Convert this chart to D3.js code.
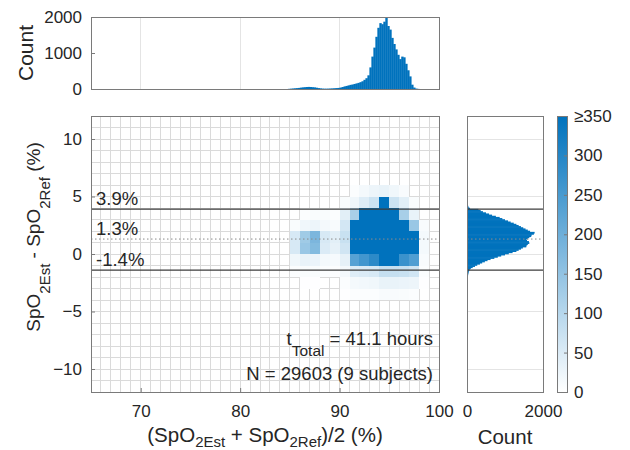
<!DOCTYPE html>
<html><head><meta charset="utf-8">
<script src="https://cdn.jsdelivr.net/npm/d3@7/dist/d3.min.js"></script>
<style>
body{margin:0;background:#fff;}
text{font-family:"Liberation Sans",Arial,sans-serif;fill:#262626;}
</style>
</head><body>
<svg id="c" width="630" height="450"></svg>
<script>
// ---------- data ----------
const xTicks = [70, 80, 90, 100];
const yTicks = [-10, -5, 0, 5, 10];
const topTicks = [0, 1000, 2000];
const rightTicks = [0, 2000];
const cbarTicks = [0, 50, 100, 150, 200, 250, 300, 350];
const cbarTickLabels = ["0", "50", "100", "150", "200", "250", "300", "\u2265350"];

const limitValues = [3.9, 1.3, -1.4];
const limitLabels = ["3.9%", "1.3%", "-1.4%"];

// 2D histogram (1% x 1% bins): lower edges and counts (rows top -> bottom)
const heatXStart = [84, 85, 86, 87, 88, 89, 90, 91, 92, 93, 94, 95, 96, 97, 98];
const heatYStart = [5, 4, 3, 2, 1, 0, -1, -2, -3, -4];
const heatCounts = [
  [0, 0, 0, 0, 0, 0, 0, 5, 15, 25, 30, 20, 10, 0, 0],
  [0, 0, 0, 0, 0, 0, 8, 20, 45, 70, 420, 70, 40, 8, 0],
  [0, 0, 5, 8, 8, 5, 40, 120, 380, 600, 900, 450, 120, 30, 0],
  [0, 8, 20, 25, 15, 10, 60, 380, 900, 1500, 1800, 1200, 500, 140, 10],
  [0, 55, 130, 180, 55, 40, 75, 420, 1100, 1900, 2300, 1700, 900, 420, 15],
  [0, 55, 140, 170, 50, 35, 65, 400, 1000, 1800, 2200, 1800, 900, 400, 15],
  [0, 20, 30, 28, 15, 12, 35, 230, 260, 290, 600, 500, 270, 240, 10],
  [0, 5, 8, 8, 5, 4, 15, 45, 50, 55, 80, 80, 75, 65, 5],
  [0, 0, 2, 2, 0, 0, 5, 15, 18, 20, 30, 30, 28, 25, 2],
  [0, 0, 0, 0, 0, 0, 2, 5, 6, 6, 10, 10, 8, 6, 0]
];

// top marginal histogram of the mean (bins of 0.2 starting at 84.8)
const topBinFirst = 84.8, topBinWidth = 0.2;
const topCounts = [
  5, 10, 15, 20, 25, 30, 38, 45, 50, 55, 58, 55, 50, 45, 35, 25, 18, 12, 10, 10,
  12, 15, 18, 22, 26, 30, 40, 55, 72, 85, 100, 115, 125, 140, 155, 170, 190, 215, 255, 300,
  380, 600, 900, 1150, 1450, 1700, 1830, 1800, 1870, 2000, 1750, 1650, 1420, 1250, 1100, 950,
  830, 900, 880, 700, 520, 350, 120, 40, 12, 4
];

// right marginal histogram of the difference (bins of 0.1 starting at -3.3)
const rightBinFirst = -3.3, rightBinWidth = 0.1;
const rightCounts = [
  4, 5, 6, 7, 8, 9, 10, 12, 14, 16, 18, 20, 22, 25, 28, 32, 38, 45, 55, 70,
  100, 150, 210, 270, 340, 400, 470, 540, 620, 720, 810, 900, 1000, 1100, 1200, 1300, 1360, 1420, 1470, 1560,
  1570, 1600, 1640, 1630, 1580, 1560, 1600, 1640, 1690, 1700, 1760, 1780, 1660, 1600, 1540, 1480, 1420, 1360, 1300, 1230,
  1150, 1080, 1000, 930, 860, 760, 660, 580, 500, 420, 360, 300, 80, 45, 30, 25, 20, 15
];

// ---------- layout ----------
const svg = d3.select("#c");
const M = {l: 91, r: 439, t: 116, b: 392};
const TH = {t: 17, b: 89};
const RH = {l: 467, r: 543};
const CB = {l: 557, r: 567};
const blue = "#0072bd";
const boxColor = "#7a7a7a";
const gridColor = "#dadada";

const x = d3.scaleLinear().domain([65, 100]).range([M.l, M.r]);
const y = d3.scaleLinear().domain([-12, 12]).range([M.b, M.t]);
const yTop = d3.scaleLinear().domain([0, 2000]).range([TH.b, TH.t]);
const xRight = d3.scaleLinear().domain([0, 2000]).range([RH.l, RH.r]);
const cbY = d3.scaleLinear().domain([0, 350]).range([M.b, M.t]);
const color = d3.scaleLinear().domain([0, 350]).range(["#ffffff", blue]).clamp(true);

// ---------- main heatmap ----------
const gMain = svg.append("g");
gMain.selectAll("line.gv").data(d3.range(66, 100)).join("line")
  .attr("x1", d => x(d)).attr("x2", d => x(d)).attr("y1", M.t).attr("y2", M.b)
  .attr("stroke", gridColor).attr("shape-rendering", "crispEdges");
gMain.selectAll("line.gh").data(d3.range(-11, 12)).join("line")
  .attr("x1", M.l).attr("x2", M.r).attr("y1", d => y(d)).attr("y2", d => y(d))
  .attr("stroke", gridColor).attr("shape-rendering", "crispEdges");

const cells = [];
heatCounts.forEach((row, i) => row.forEach((c, j) => {
  if (c > 0) cells.push({x0: heatXStart[j], y0: heatYStart[i], c});
}));
gMain.selectAll("rect.cell").data(cells).join("rect")
  .attr("x", d => x(d.x0)).attr("width", d => x(d.x0 + 1) - x(d.x0))
  .attr("y", d => y(d.y0 + 1)).attr("height", d => y(d.y0) - y(d.y0 + 1))
  .attr("fill", d => color(d.c)).attr("shape-rendering", "crispEdges");

function drawLimits(g, x1, x2) {
  g.selectAll(null).data(limitValues).join("line")
    .attr("x1", x1).attr("x2", x2)
    .attr("y1", d => y(d)).attr("y2", d => y(d))
    .attr("stroke", (d, i) => i === 1 ? "#8a8a8a" : "#3c3c3c")
    .attr("stroke-width", (d, i) => i === 1 ? 1 : 1.2)
    .attr("stroke-dasharray", (d, i) => i === 1 ? "1.5,2.5" : null);
}
drawLimits(gMain, M.l, M.r);
gMain.selectAll("text.lim").data(limitValues).join("text")
  .attr("x", 96).attr("y", d => y(d) - 4)
  .attr("font-size", 18.5).text((d, i) => limitLabels[i]);

const ann1 = gMain.append("text").attr("x", 433).attr("y", 345).attr("text-anchor", "end").attr("font-size", 18.5);
ann1.append("tspan").text("t");
ann1.append("tspan").attr("font-size", 15.5).attr("dy", 11).text("Total");
ann1.append("tspan").attr("dy", -11).text(" = 41.1 hours");
gMain.append("text").attr("x", 433).attr("y", 380).attr("text-anchor", "end").attr("font-size", 18.5)
  .text("N = 29603 (9 subjects)");

const axL = d3.axisLeft(y).tickValues(yTicks).tickSize(-4).tickPadding(9).tickFormat(d3.format("d"));
const gy = svg.append("g").attr("transform", `translate(${M.l},0)`).call(axL);
const axB = d3.axisBottom(x).tickValues(xTicks).tickSize(-4).tickPadding(13);
const gx = svg.append("g").attr("transform", `translate(0,${M.b})`).call(axB);
[gy, gx].forEach(g => {
  g.select(".domain").remove();
  g.selectAll("line").attr("stroke", boxColor);
  g.selectAll("text").attr("font-size", 17).attr("font-family", '"Liberation Sans",Arial,sans-serif').attr("fill", "#262626");
});
svg.append("rect").attr("x", M.l).attr("y", M.t).attr("width", M.r - M.l).attr("height", M.b - M.t)
  .attr("fill", "none").attr("stroke", boxColor).attr("shape-rendering", "crispEdges");

const xl = svg.append("text").attr("x", (M.l + M.r) / 2).attr("y", 442).attr("text-anchor", "middle").attr("font-size", 20.5);
xl.append("tspan").text("(SpO");
xl.append("tspan").attr("font-size", 15).attr("dy", 5).text("2Est");
xl.append("tspan").attr("dy", -5).text(" + SpO");
xl.append("tspan").attr("font-size", 15).attr("dy", 5).text("2Ref");
xl.append("tspan").attr("dy", -5).text(")/2 (%)");

const yl = svg.append("text").attr("transform", "translate(40,237) rotate(-90)").attr("text-anchor", "middle").attr("font-size", 19);
yl.append("tspan").text("SpO");
yl.append("tspan").attr("font-size", 15).attr("dy", 10).text("2Est");
yl.append("tspan").attr("dy", -10).text(" - SpO");
yl.append("tspan").attr("font-size", 15).attr("dy", 10).text("2Ref");
yl.append("tspan").attr("dy", -10).text(" (%)");

// ---------- top histogram ----------
const gTop = svg.append("g");
gTop.selectAll("line.g").data(xTicks.filter(d => d < 100)).join("line")
  .attr("x1", d => x(d)).attr("x2", d => x(d)).attr("y1", TH.t).attr("y2", TH.b)
  .attr("stroke", "#e4e4e4").attr("shape-rendering", "crispEdges");
gTop.selectAll("rect.bar").data(topCounts).join("rect")
  .attr("x", (d, i) => x(topBinFirst + i * topBinWidth))
  .attr("width", (d, i) => x(topBinFirst + (i + 1) * topBinWidth) - x(topBinFirst + i * topBinWidth) + 0.4)
  .attr("y", d => yTop(d)).attr("height", d => yTop(0) - yTop(d))
  .attr("fill", blue);
const gty = svg.append("g").attr("transform", `translate(${M.l},0)`)
  .call(d3.axisLeft(yTop).tickValues(topTicks).tickSize(-4).tickPadding(9).tickFormat(d3.format("d")));
gty.select(".domain").remove();
gty.selectAll("line").attr("stroke", boxColor);
gty.selectAll("text").attr("font-size", 17).attr("font-family", '"Liberation Sans",Arial,sans-serif').attr("fill", "#262626");
svg.append("rect").attr("x", M.l).attr("y", TH.t).attr("width", M.r - M.l).attr("height", TH.b - TH.t)
  .attr("fill", "none").attr("stroke", boxColor).attr("shape-rendering", "crispEdges");
svg.append("text").attr("transform", `translate(33,${(TH.t + TH.b) / 2}) rotate(-90)`)
  .attr("text-anchor", "middle").attr("font-size", 21).text("Count");

// ---------- right histogram ----------
const gR = svg.append("g");
gR.selectAll("line.g").data(yTicks).join("line")
  .attr("x1", RH.l).attr("x2", RH.r).attr("y1", d => y(d)).attr("y2", d => y(d))
  .attr("stroke", "#e4e4e4").attr("shape-rendering", "crispEdges");
gR.selectAll("rect.bar").data(rightCounts).join("rect")
  .attr("x", RH.l)
  .attr("y", (d, i) => y(rightBinFirst + (i + 1) * rightBinWidth) - 0.3)
  .attr("height", (d, i) => y(rightBinFirst + i * rightBinWidth) - y(rightBinFirst + (i + 1) * rightBinWidth) + 0.6)
  .attr("width", d => xRight(d) - xRight(0))
  .attr("fill", blue);
drawLimits(gR, RH.l, RH.r);
const grx = svg.append("g").attr("transform", `translate(0,${M.b})`)
  .call(d3.axisBottom(xRight).tickValues(rightTicks).tickSize(-4).tickPadding(13).tickFormat(d3.format("d")));
grx.select(".domain").remove();
grx.selectAll("line").attr("stroke", boxColor);
grx.selectAll("text").attr("font-size", 17).attr("font-family", '"Liberation Sans",Arial,sans-serif').attr("fill", "#262626");
svg.append("rect").attr("x", RH.l).attr("y", M.t).attr("width", RH.r - RH.l).attr("height", M.b - M.t)
  .attr("fill", "none").attr("stroke", boxColor).attr("shape-rendering", "crispEdges");
svg.append("text").attr("x", (RH.l + RH.r) / 2).attr("y", 444).attr("text-anchor", "middle")
  .attr("font-size", 20.5).text("Count");

// ---------- colorbar ----------
const defs = svg.append("defs");
const grad = defs.append("linearGradient").attr("id", "cb").attr("x1", 0).attr("y1", 1).attr("x2", 0).attr("y2", 0);
grad.selectAll("stop").data([0, 350]).join("stop")
  .attr("offset", d => d / 350).attr("stop-color", d => color(d));
svg.append("rect").attr("x", CB.l).attr("y", cbY(350)).attr("width", CB.r - CB.l).attr("height", cbY(0) - cbY(350))
  .attr("fill", "url(#cb)").attr("stroke", boxColor).attr("shape-rendering", "crispEdges");
const gcb = svg.append("g").attr("transform", `translate(${CB.r},0)`)
  .call(d3.axisRight(cbY).tickValues(cbarTicks).tickSize(-3).tickPadding(7).tickFormat((d, i) => cbarTickLabels[i]));
gcb.select(".domain").remove();
gcb.selectAll("line").attr("stroke", boxColor);
gcb.selectAll("text").attr("font-size", 17).attr("font-family", '"Liberation Sans",Arial,sans-serif').attr("fill", "#262626");
</script>
</body></html>
